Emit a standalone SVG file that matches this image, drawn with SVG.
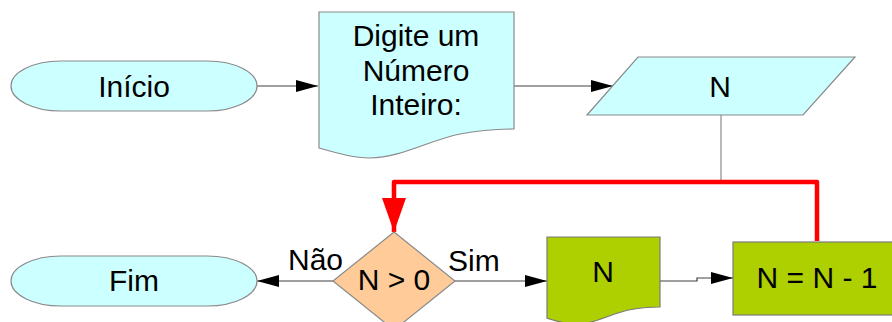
<svg xmlns="http://www.w3.org/2000/svg" width="892" height="322" viewBox="0 0 892 322">
<style>
.lbl{font-family:"Liberation Sans",Arial,sans-serif;font-size:30px;fill:#000;}
.c{text-anchor:middle;}
.cyan{fill:#CCFFFF;stroke:#8a8a8a;stroke-width:1.2;}
.green{fill:#AECF00;stroke:#7a7a7a;stroke-width:1.2;}
.peach{fill:#FFCC99;stroke:#8a8a8a;stroke-width:1.2;}
.conn{fill:none;stroke:#404040;stroke-width:1.2;}
.gray{fill:none;stroke:#8a8a8a;stroke-width:1.2;}
.red{fill:none;stroke:#FF0000;stroke-width:4.5;stroke-linejoin:round;}
</style>
<defs>
<marker id="ah" markerUnits="userSpaceOnUse" viewBox="0 0 22 12" markerWidth="22" markerHeight="12" refX="22" refY="6" orient="auto">
<path d="M0,0 L22,6 L0,12 z" fill="#000"/>
</marker>
<marker id="rah" markerUnits="userSpaceOnUse" viewBox="0 0 34 24" markerWidth="34" markerHeight="24" refX="34" refY="12" orient="auto">
<path d="M0,0 L34,12 L0,24 z" fill="#FF0000"/>
</marker>
</defs>
<g id="connectors">
<path class="conn" d="M257,86 H318" marker-end="url(#ah)"/>
<path class="conn" d="M514,86 H613" marker-end="url(#ah)"/>
<path class="gray" d="M721,115 V182"/>
<path class="red" d="M817,241 V182 H394 V232" marker-end="url(#rah)"/>
<path class="conn" d="M333,281 H257" marker-end="url(#ah)"/>
<path class="conn" d="M455,281 H547" marker-end="url(#ah)"/>
<path class="conn" d="M660,281 H697 V278 H733" marker-end="url(#ah)"/>
<text class="lbl" x="288" y="270">Não</text>
<text class="lbl" x="448" y="271">Sim</text>
</g>
<g id="inicio">
<rect class="cyan" x="11" y="61" width="246" height="50" rx="50" ry="25"/>
<text class="lbl c" x="134" y="96.5">Início</text>
</g>
<g id="digite">
<path class="cyan" d="M319,12 H514 V129 C500,129 480,130 460,134 C430,140 400,158 370,158 C355,158 340,154 319,148 Z"/>
<text class="lbl c" x="416" y="46">Digite um</text>
<text class="lbl c" x="416" y="81">Número</text>
<text class="lbl c" x="416" y="115">Inteiro:</text>
</g>
<g id="inputN">
<polygon class="cyan" points="638,57 855,57 803,115 587,115"/>
<text class="lbl c" x="720" y="97">N</text>
</g>
<g id="decisao">
<polygon class="peach" points="394,232 455,281 394,330 333,281"/>
<text class="lbl c" x="394" y="290">N &gt; 0</text>
</g>
<g id="fim">
<rect class="cyan" x="11" y="256" width="246" height="50" rx="50" ry="25"/>
<text class="lbl c" x="134" y="291">Fim</text>
</g>
<g id="outN">
<path class="green" d="M547,237 H660 V307 C652,307 640,307.6 628.7,310 C611,313.5 594,324.3 576.6,324.3 C568,324.3 559,322 547,318.3 Z"/>
<text class="lbl c" x="603" y="282">N</text>
</g>
<g id="decremento">
<rect class="green" x="733" y="242" width="170" height="73"/>
<text class="lbl c" x="817" y="288">N = N - 1</text>
</g>
</svg>
